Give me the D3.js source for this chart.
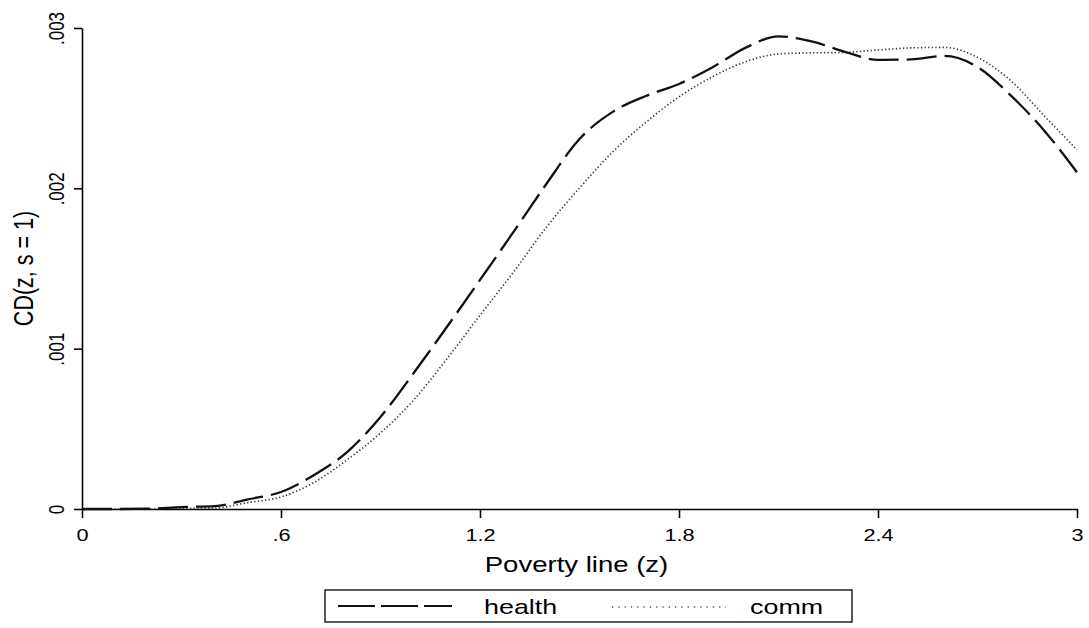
<!DOCTYPE html>
<html>
<head>
<meta charset="utf-8">
<script src="https://cdn.jsdelivr.net/npm/d3@7"></script>
<style>
  body { margin: 0; background: #fff; }
  text { font-family: "Liberation Sans", Arial, sans-serif; fill: #000; }
</style>
</head>
<body>
<script>
// poverty line grid and the two CD curves
var zValues = [0, 0.1, 0.2, 0.3, 0.4, 0.5, 0.6, 0.7, 0.8, 0.9, 1.0,
               1.1, 1.2, 1.3, 1.4, 1.5, 1.6, 1.7, 1.8, 1.9, 2.0,
               2.1, 2.2, 2.3, 2.4, 2.5, 2.6, 2.7, 2.8, 2.9, 3.0];
var health = [0, 0, 0.000002, 0.000012, 0.000018, 0.00006, 0.000106, 0.000212, 0.000356, 0.000574, 0.000848,
              0.001135, 0.001429, 0.001725, 0.002027, 0.002308, 0.002477, 0.002576, 0.002651, 0.002754, 0.002876,
              0.002948, 0.002916, 0.002851, 0.002801, 0.002804, 0.002826, 0.002757, 0.00258, 0.002363, 0.0021];
var comm = [0, 0, 0, 0.000003, 0.000006, 0.00004, 0.000075, 0.000166, 0.000308, 0.000474, 0.00068,
            0.000936, 0.001208, 0.001475, 0.001757, 0.002002, 0.002227, 0.002412, 0.00257, 0.002695, 0.002789,
            0.002838, 0.002845, 0.002848, 0.002863, 0.002876, 0.002879, 0.002817, 0.002672, 0.002455, 0.00224];
var xTicks = [0, 0.6, 1.2, 1.8, 2.4, 3];
var yTicks = [0, 0.001, 0.002, 0.003];
var seriesNames = ["health", "comm"];

var w = 1089, h = 628;
var stretch = 1.28;   // the scanned figure is wider than tall

var svg = d3.select("body").append("svg")
    .attr("width", w)
    .attr("height", h);

var x = d3.scaleLinear().domain([0, 3]).range([82, 1077]);
var y = d3.scaleLinear().domain([0, 0.003]).range([509, 28]);

var fmt = function(d) { return d === 0 ? "0" : String(d).replace(/^0\./, "."); };

// y axis
var gy = svg.append("g")
    .attr("transform", "translate(" + x(0) + ",0)")
    .call(d3.axisLeft(y).tickValues(yTicks).tickSize(8).tickSizeOuter(0).tickFormat(fmt));
gy.selectAll(".tick text")
    .attr("x", null).attr("dy", null)
    .attr("font-size", "17px")
    .attr("text-anchor", "middle")
    .attr("transform", "translate(-18,0) scale(" + stretch + ",1) rotate(-90)");

// x axis
var gx = svg.append("g")
    .attr("transform", "translate(0," + y(0) + ")")
    .call(d3.axisBottom(x).tickValues(xTicks).tickSize(9).tickSizeOuter(0).tickFormat(fmt));
gx.selectAll(".tick text")
    .attr("y", null).attr("dy", null)
    .attr("font-size", "17px")
    .attr("text-anchor", "middle")
    .attr("transform", "translate(0,32) scale(" + stretch + ",1)");

svg.selectAll(".domain, .tick line")
    .attr("stroke", "#000")
    .attr("stroke-width", 1.6);

// axis titles
svg.append("text")
    .text("Poverty line (z)")
    .attr("font-size", "21.5px")
    .attr("text-anchor", "middle")
    .attr("transform", "translate(" + ((x(0) + x(3)) / 2 - 3) + ",572) scale(" + stretch + ",1)");

svg.append("text")
    .text("CD(z, s = 1)")
    .attr("font-size", "21.5px")
    .attr("text-anchor", "middle")
    .attr("transform", "translate(33," + ((y(0) + y(0.003)) / 2) + ") scale(" + stretch + ",1) rotate(-90)");

// curves
var line = d3.line()
    .x(function(d) { return x(d[0]); })
    .y(function(d) { return y(d[1]); })
    .curve(d3.curveMonotoneX);

svg.append("path")
    .datum(zValues.map(function(z, i) { return [z, comm[i]]; }))
    .attr("d", line)
    .attr("fill", "none")
    .attr("stroke", "#333")
    .attr("stroke-width", 1.6)
    .attr("stroke-dasharray", "1.3,2.3");

svg.append("path")
    .datum(zValues.map(function(z, i) { return [z, health[i]]; }))
    .attr("d", line)
    .attr("fill", "none")
    .attr("stroke", "#111")
    .attr("stroke-width", 2.3)
    .attr("stroke-dasharray", "30,8");

// legend
var legend = svg.append("g");
legend.append("rect")
    .attr("x", 325).attr("y", 590)
    .attr("width", 527).attr("height", 32)
    .attr("fill", "none")
    .attr("stroke", "#000")
    .attr("stroke-width", 1.3);

legend.append("line")
    .attr("x1", 338).attr("x2", 452).attr("y1", 606).attr("y2", 606)
    .attr("stroke", "#111").attr("stroke-width", 2)
    .attr("stroke-dasharray", "37,6");
legend.append("line")
    .attr("x1", 612).attr("x2", 726).attr("y1", 607).attr("y2", 607)
    .attr("stroke", "#555").attr("stroke-width", 1.4)
    .attr("stroke-dasharray", "1.3,5");

legend.selectAll("text.lab")
    .data(seriesNames)
    .enter()
    .append("text")
    .attr("class", "lab")
    .text(function(d) { return d; })
    .attr("font-size", "21px")
    .attr("text-anchor", "start")
    .attr("transform", function(d, i) {
        return "translate(" + (i === 0 ? 484 : 750) + ",614) scale(" + stretch + ",1)";
    });
</script>
</body>
</html>
